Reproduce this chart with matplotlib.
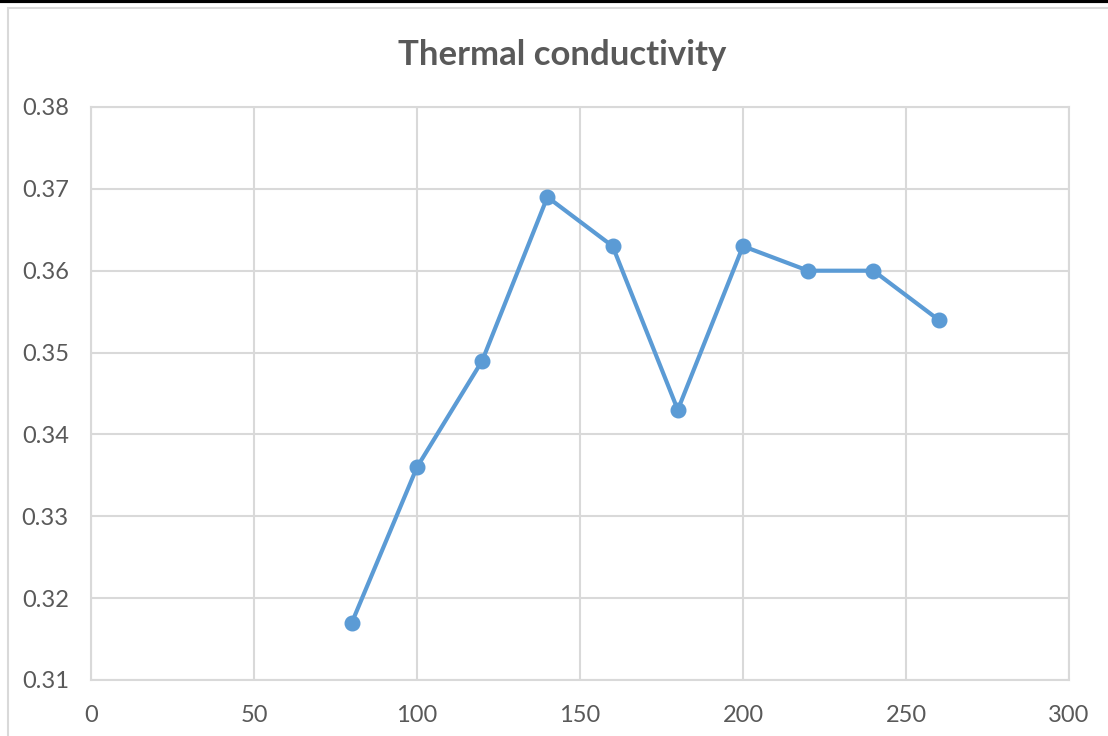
import numpy as np
import matplotlib
matplotlib.use("Agg")
import matplotlib.pyplot as plt
from matplotlib.patches import Rectangle
from matplotlib.lines import Line2D

# data
temps = [80, 100, 120, 140, 160, 180, 200, 220, 240, 260]
conductivity = [0.317, 0.336, 0.349, 0.369, 0.363, 0.343, 0.363, 0.360, 0.360, 0.354]
x_ticks = [0, 50, 100, 150, 200, 250, 300]
y_ticks = [0.31, 0.32, 0.33, 0.34, 0.35, 0.36, 0.37, 0.38]

plt.rcParams['font.family'] = ['Lato', 'DejaVu Sans']
W, H = 1108, 736
fig = plt.figure(figsize=(W / 100, H / 100), dpi=100)

# outer chart frame + black top rule
fig.patches.append(Rectangle((8 / W, -0.01), 1.1, 1 - 8 / H + 0.01, transform=fig.transFigure,
                             fill=False, edgecolor='#d9d9d9', linewidth=1.5))
fig.lines.append(Line2D([0, 1], [1 - 1 / H, 1 - 1 / H], transform=fig.transFigure,
                        color='black', linewidth=3))

ax = fig.add_axes([91 / W, 1 - 680 / H, (1069 - 91) / W, (680 - 107) / H])
ax.plot(temps, conductivity, color='#5b9bd5', linewidth=3, marker='o',
        markersize=10.5, solid_capstyle='round', zorder=3)

ax.set_xlim(0, 300)
ax.set_ylim(0.31, 0.38)
ax.set_xticks(x_ticks)
ax.set_yticks(y_ticks)
ax.set_yticklabels(['%.2f' % v for v in y_ticks])
ax.grid(True, color='#d9d9d9', linewidth=1.5)
ax.set_axisbelow(True)
for s in ax.spines.values():
    s.set_color('#d9d9d9')
    s.set_linewidth(1.5)
ax.tick_params(length=0, labelsize=17, labelcolor='#595959')
ax.tick_params(axis='x', pad=18)
ax.tick_params(axis='y', pad=16)

fig.text(562 / W, 1 - 55 / H, 'Thermal conductivity', ha='center', va='center',
         fontsize=25, fontweight='bold', color='#595959')

fig.savefig('out.png', dpi=100)
